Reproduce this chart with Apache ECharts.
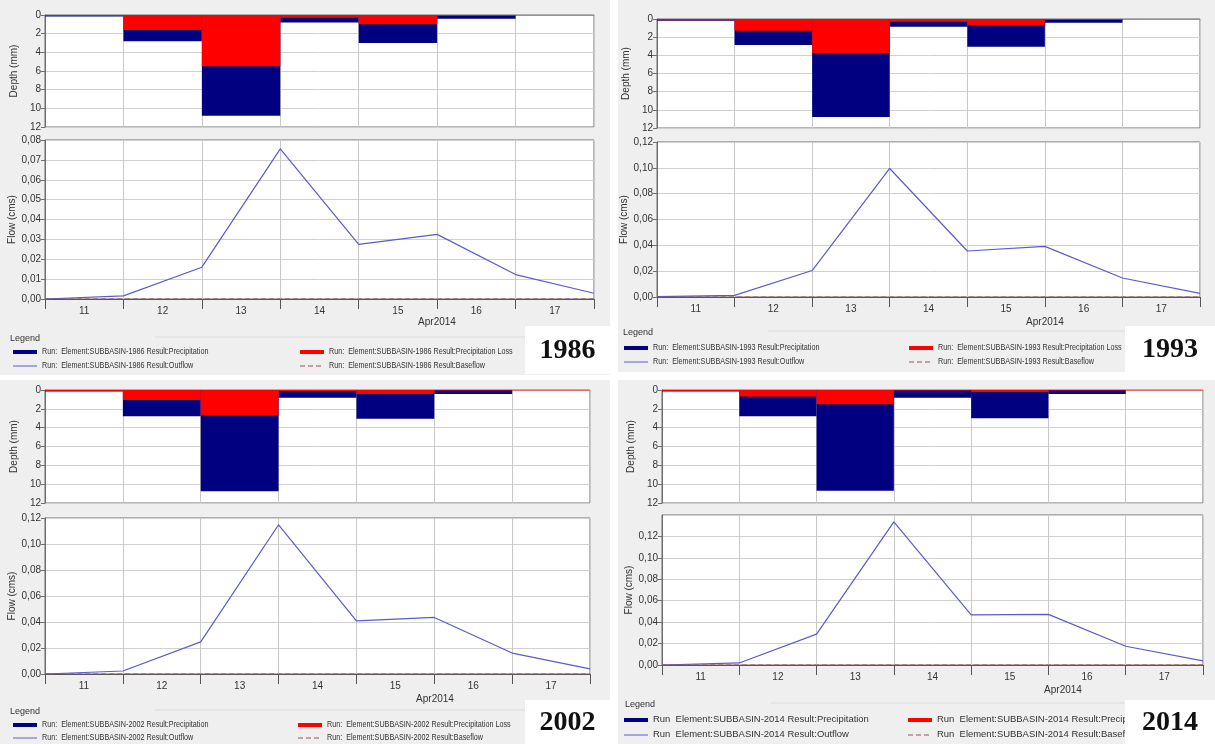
<!DOCTYPE html>
<html>
<head>
<meta charset="utf-8">
<script src="https://cdn.jsdelivr.net/npm/echarts@6/dist/echarts.min.js"></script>
<style>
  html, body { margin: 0; padding: 0; background: #ffffff; }
  #chart { width: 1215px; height: 744px; }
</style>
</head>
<body>
<div id="chart"></div>
<script>
// Daily categories and the month caption under the time axis
const days = ['11', '12', '13', '14', '15', '16', '17'];
const monthLabel = 'Apr2014';
// Flow is reported at each midnight: 0 = start of day 11 ... 7 = end of day 17
const flowSteps = [0, 1, 2, 3, 4, 5, 6, 7];

// 1986 land use
const precip1986 = [0.15, 2.8, 10.8, 0.8, 3.0, 0.4, 0];
const loss1986 = [0.1, 1.6, 5.5, 0.3, 1.0, 0.12, 0];
const outflow1986 = [0.0000, 0.0016, 0.0160, 0.0755, 0.0275, 0.0325, 0.0123, 0.0029];
const baseflow1986 = [0, 0, 0, 0, 0, 0, 0, 0];

// 1993 land use
const precip1993 = [0.2, 2.85, 10.8, 0.85, 3.05, 0.4, 0];
const loss1993 = [0.15, 1.3, 3.75, 0.3, 0.65, 0.1, 0];
const outflow1993 = [0.0003, 0.0013, 0.0205, 0.0995, 0.0356, 0.0392, 0.0147, 0.0028];
const baseflow1993 = [0, 0, 0, 0, 0, 0, 0, 0];

// 2002 land use
const precip2002 = [0.15, 2.8, 10.75, 0.82, 3.05, 0.42, 0];
const loss2002 = [0.1, 1.05, 2.7, 0.1, 0.42, 0.05, 0];
const outflow2002 = [0.0000, 0.0023, 0.0247, 0.1148, 0.0408, 0.0435, 0.0161, 0.0040];
const baseflow2002 = [0, 0, 0, 0, 0, 0, 0, 0];

// 2014 land use
const precip2014 = [0.15, 2.8, 10.7, 0.83, 3.0, 0.43, 0];
const loss2014 = [0.1, 0.7, 1.5, 0.05, 0.2, 0.05, 0];
const outflow2014 = [0.0000, 0.0019, 0.0288, 0.1335, 0.0468, 0.0473, 0.0175, 0.0038];
const baseflow2014 = [0, 0, 0, 0, 0, 0, 0, 0];

const FONT = 'Liberation Sans, Arial, sans-serif';
const COLORS = { precip: '#000080', loss: '#ff0000', outflow: '#5b5bd0', base: '#a0504a' };

const panels = [
  {
    year: '1986', run: 'Run:  Element:SUBBASIN-1986 Result:',
    precip: precip1986, loss: loss1986, outflow: outflow1986, baseflow: baseflow1986,
    bg: [0, 0, 610, 375],
    depth: { left: 45, top: 15, width: 549, height: 112 },
    flow: { left: 45, top: 140, width: 549, height: 159 },
    flowMax: 0.08, flowStep: 0.01, showMax: true,
    month: [437, 322],
    legend: { x: 10, y: 339, rows: [352, 366], left: 13, right: 300, lineTo: 525, scale: 0.8 },
    yearBox: [525, 326, 85, 48]
  },
  {
    year: '1993', run: 'Run:  Element:SUBBASIN-1993 Result:',
    precip: precip1993, loss: loss1993, outflow: outflow1993, baseflow: baseflow1993,
    bg: [618, 0, 597, 372],
    depth: { left: 657, top: 19, width: 543, height: 109 },
    flow: { left: 657, top: 142, width: 543, height: 155 },
    flowMax: 0.12, flowStep: 0.02, showMax: true,
    month: [1045, 322],
    legend: { x: 623, y: 333, rows: [348, 362], left: 624, right: 909, lineTo: 1125, scale: 0.8 },
    yearBox: [1125, 326, 90, 46]
  },
  {
    year: '2002', run: 'Run:  Element:SUBBASIN-2002 Result:',
    precip: precip2002, loss: loss2002, outflow: outflow2002, baseflow: baseflow2002,
    bg: [0, 380, 610, 364],
    depth: { left: 45, top: 390, width: 545, height: 113 },
    flow: { left: 45, top: 518, width: 545, height: 156 },
    flowMax: 0.12, flowStep: 0.02, showMax: true,
    month: [435, 699],
    legend: { x: 10, y: 712, rows: [725, 738], left: 13, right: 298, lineTo: 525, scale: 0.8 },
    yearBox: [525, 700, 85, 44]
  },
  {
    year: '2014', run: 'Run  Element:SUBBASIN-2014 Result:',
    precip: precip2014, loss: loss2014, outflow: outflow2014, baseflow: baseflow2014,
    bg: [618, 380, 597, 364],
    depth: { left: 662, top: 390, width: 541, height: 113 },
    flow: { left: 662, top: 515, width: 541, height: 150 },
    flowMax: 0.14, flowStep: 0.02, showMax: false,
    month: [1063, 690],
    legend: { x: 625, y: 705, rows: [720, 735], left: 624, right: 908, lineTo: 1125, scale: 1.05 },
    yearBox: [1125, 700, 90, 44]
  }
];

const commaFmt = (digits) => (v) => v.toFixed(digits).replace('.', ',');

const grid = [], xAxis = [], yAxis = [], series = [], graphic = [];

panels.forEach((p, k) => {
  const gDepth = 2 * k, gFlow = 2 * k + 1;
  const xDepth = 3 * k, xFlowVal = 3 * k + 2;

  grid.push({ left: p.depth.left, top: p.depth.top, width: p.depth.width, height: p.depth.height,
    show: true, backgroundColor: '#ffffff', borderColor: '#6e6e6e', borderWidth: 1 });
  grid.push({ left: p.flow.left, top: p.flow.top, width: p.flow.width, height: p.flow.height,
    show: true, backgroundColor: '#ffffff', borderColor: '#6e6e6e', borderWidth: 1 });

  // Depth panel: daily bars hanging from the top axis
  xAxis.push({
    type: 'category', gridIndex: gDepth, data: days, position: 'top', boundaryGap: true,
    axisLine: { onZero: false, lineStyle: { color: '#e07070', width: 1 } },
    axisTick: { show: false }, axisLabel: { show: false },
    splitLine: { show: true, lineStyle: { color: '#c9c9c9' } }
  });
  // Flow panel: day labels between midnight ticks
  xAxis.push({
    type: 'category', gridIndex: gFlow, data: days, boundaryGap: true,
    axisLine: { onZero: false, lineStyle: { color: '#555555' } },
    axisTick: { show: true, length: 10, lineStyle: { color: '#555555' } },
    axisLabel: { color: '#333333', fontFamily: FONT, fontSize: 10, margin: 7 },
    splitLine: { show: true, lineStyle: { color: '#c9c9c9' } }
  });
  // Continuous time scale used by the flow hydrographs
  xAxis.push({ type: 'value', gridIndex: gFlow, min: 0, max: 7, show: false });

  yAxis.push({
    type: 'value', gridIndex: gDepth, inverse: true, min: 0, max: 12, interval: 2,
    name: 'Depth (mm)', nameLocation: 'middle', nameGap: 26,
    nameTextStyle: { color: '#333333', fontFamily: FONT, fontSize: 10 },
    axisLine: { show: true, lineStyle: { color: '#6e6e6e' } },
    axisTick: { show: true, length: 4, lineStyle: { color: '#6e6e6e' } },
    axisLabel: { color: '#333333', fontFamily: FONT, fontSize: 10, margin: 4 },
    splitLine: { show: true, lineStyle: { color: '#d0d0d0' } }
  });
  yAxis.push({
    type: 'value', gridIndex: gFlow, min: 0, max: p.flowMax, interval: p.flowStep,
    name: 'Flow (cms)', nameLocation: 'middle', nameGap: 27,
    nameTextStyle: { color: '#333333', fontFamily: FONT, fontSize: 10 },
    axisLine: { show: true, lineStyle: { color: '#6e6e6e' } },
    axisTick: { show: true, length: 4, lineStyle: { color: '#6e6e6e' } },
    axisLabel: { color: '#333333', fontFamily: FONT, fontSize: 10, margin: 4,
      formatter: commaFmt(2), showMaxLabel: p.showMax },
    splitLine: { show: true, lineStyle: { color: '#d0d0d0' } }
  });

  series.push({
    name: p.run + 'Precipitation', type: 'bar', xAxisIndex: xDepth, yAxisIndex: gDepth,
    data: p.precip, barWidth: '100%', barGap: '-100%', itemStyle: { color: COLORS.precip }
  });
  series.push({
    name: p.run + 'Precipitation Loss', type: 'bar', xAxisIndex: xDepth, yAxisIndex: gDepth,
    data: p.loss, barWidth: '100%', barGap: '-100%', itemStyle: { color: COLORS.loss }
  });
  series.push({
    name: p.run + 'Outflow', type: 'line', xAxisIndex: xFlowVal, yAxisIndex: gFlow,
    data: p.outflow.map((v, i) => [flowSteps[i], v]), symbol: 'none',
    lineStyle: { color: COLORS.outflow, width: 1.2 }, z: 4
  });
  series.push({
    name: p.run + 'Baseflow', type: 'line', xAxisIndex: xFlowVal, yAxisIndex: gFlow,
    data: p.baseflow.map((v, i) => [flowSteps[i], v]), symbol: 'none',
    lineStyle: { color: COLORS.base, width: 1, type: [5, 3] }, z: 5
  });

  // Panel background
  graphic.push({ type: 'rect', shape: { x: p.bg[0], y: p.bg[1], width: p.bg[2], height: p.bg[3] },
    style: { fill: '#efefef' }, z: -100, silent: true });

  // Month caption
  graphic.push({ type: 'text', x: p.month[0], y: p.month[1],
    style: { text: monthLabel, fill: '#333333', font: '10px ' + FONT, align: 'center', verticalAlign: 'middle' } });

  // Legend block
  const L = p.legend;
  graphic.push({ type: 'text', x: L.x, y: L.y,
    style: { text: 'Legend', fill: '#333333', font: '9px ' + FONT, verticalAlign: 'middle' } });
  graphic.push({ type: 'line', shape: { x1: L.x + 145, y1: L.y - 2, x2: L.lineTo, y2: L.y - 2 },
    style: { stroke: '#dcdcdc', lineWidth: 1 } });
  const entries = [
    { col: L.left, row: L.rows[0], label: 'Precipitation', kind: 'bar', color: COLORS.precip },
    { col: L.right, row: L.rows[0], label: 'Precipitation Loss', kind: 'bar', color: COLORS.loss },
    { col: L.left, row: L.rows[1], label: 'Outflow', kind: 'line', color: COLORS.outflow },
    { col: L.right, row: L.rows[1], label: 'Baseflow', kind: 'dash', color: COLORS.base }
  ];
  entries.forEach((e) => {
    graphic.push({ type: 'line', shape: { x1: e.col, y1: e.row, x2: e.col + 24, y2: e.row },
      style: { stroke: e.color, lineWidth: e.kind === 'bar' ? 4 : 1, lineDash: e.kind === 'dash' ? [5, 3] : null } });
    graphic.push({ type: 'text', x: e.col + 29, y: e.row, scaleX: L.scale,
      style: { text: p.run + e.label, fill: '#333333', font: '9px ' + FONT, verticalAlign: 'middle' } });
  });

  // Year tag
  const yb = p.yearBox;
  graphic.push({ type: 'rect', shape: { x: yb[0], y: yb[1], width: yb[2], height: yb[3] },
    style: { fill: '#ffffff' }, z: 100 });
  graphic.push({ type: 'text', x: yb[0] + yb[2] / 2, y: yb[1] + yb[3] / 2 + 1, z: 101,
    style: { text: p.year, fill: '#111111', font: 'bold 28px "Liberation Serif", "Times New Roman", serif',
      align: 'center', verticalAlign: 'middle' } });
});

const chart = echarts.init(document.getElementById('chart'), null, { renderer: 'canvas' });
chart.setOption({
  animation: false,
  backgroundColor: '#ffffff',
  grid, xAxis, yAxis, series, graphic
});
</script>
</body>
</html>
